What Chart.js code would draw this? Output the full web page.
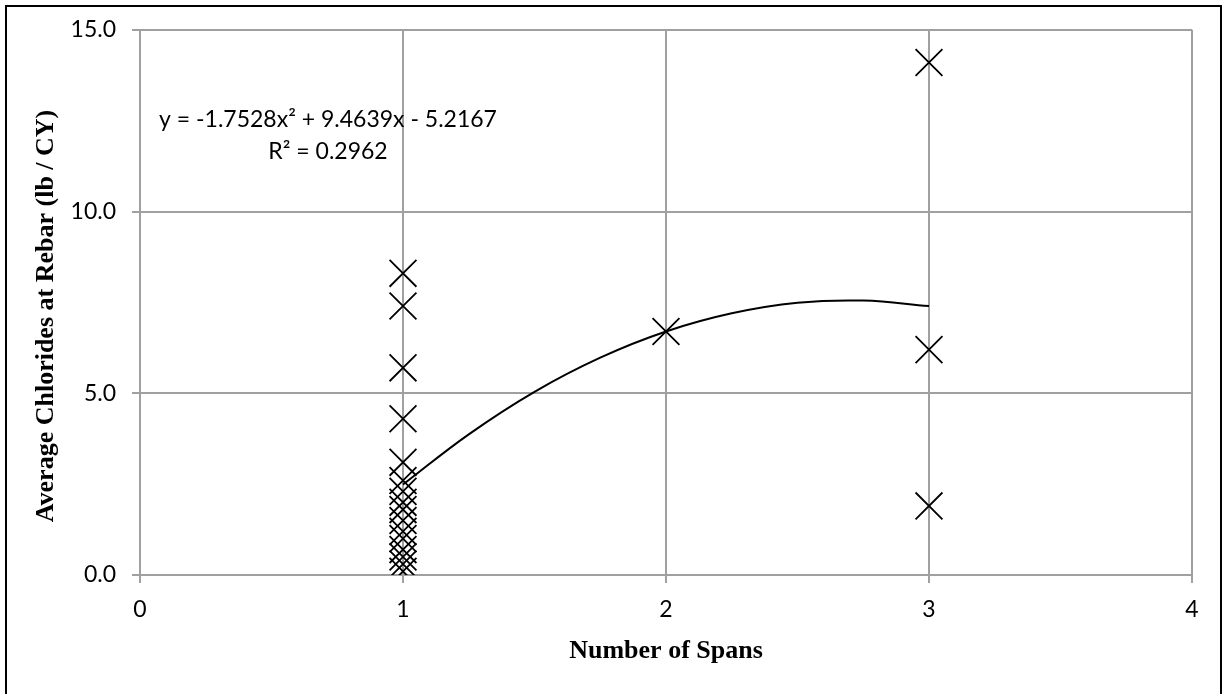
<!DOCTYPE html>
<html>
<head>
<meta charset="utf-8">
<script src="https://cdn.jsdelivr.net/npm/chart.js@4.4.1/dist/chart.umd.min.js"></script>
<style>
  html, body { margin: 0; padding: 0; background: #fff; }
  #wrap { position: relative; width: 1225px; height: 694px; }
</style>
</head>
<body>
<div id="wrap"><canvas id="chart" width="1225" height="694"></canvas></div>
<script>
// data
const spansX = [1, 1, 1, 1, 1, 1, 1, 1, 1, 1, 1, 1, 1, 1, 1, 1, 2, 3, 3, 3];
const chloridesY = [8.3, 7.4, 5.7, 4.3, 3.1, 2.6, 2.3, 2.0, 1.8, 1.5, 1.2, 1.0, 0.7, 0.5, 0.3, 0.1, 6.7, 14.1, 6.2, 1.9];

// trend curve, sampled off the plotted line
const trendX = [1, 1.25, 1.5, 1.75, 2, 2.25, 2.5, 2.75, 3];
const trendY = [2.49, 3.87, 5.04, 5.98, 6.70, 7.20, 7.49, 7.55, 7.40];

const equationText = "y = -1.7528x² + 9.4639x - 5.2167";
const r2Text = "R² = 0.2962";

const xTitle = "Number of Spans";
const yTitle = "Average Chlorides at Rebar (lb / CY)";

const tickFont = { family: "Lato", size: 23 };
const titleFont = { family: "'Liberation Serif'", size: 26, weight: "bold" };
const gridColor = "#a0a0a0";

const points = spansX.map((x, i) => ({ x, y: chloridesY[i] }));
const trend = trendX.map((x, i) => ({ x, y: trendY[i] }));

// outer frame, y title and trendline label
const extras = {
    id: "extras",
    afterDraw(chart) {
        const ctx = chart.ctx;
        ctx.save();
        ctx.strokeStyle = "#000";
        ctx.lineWidth = 2;
        ctx.strokeRect(6, 6, 1215, 700);

        ctx.fillStyle = "#000";
        ctx.textAlign = "center";
        ctx.textBaseline = "middle";

        ctx.save();
        ctx.translate(46, 316);
        ctx.rotate(-Math.PI / 2);
        ctx.font = "bold 26px 'Liberation Serif'";
        ctx.fillText(yTitle, 0, 0);
        ctx.restore();

        ctx.font = "23px Lato";
        ctx.fillText(equationText, 328, 120);
        ctx.fillText(r2Text, 328, 152);
        ctx.restore();
    }
};

new Chart(document.getElementById("chart"), {
    type: "scatter",
    data: {
        datasets: [
            {
                label: "data",
                data: points,
                pointStyle: "crossRot",
                pointRadius: 19,
                pointHoverRadius: 19,
                borderColor: "#000",
                backgroundColor: "#000",
                borderWidth: 1.8,
                order: 1
            },
            {
                label: "trend",
                type: "line",
                data: trend,
                borderColor: "#000",
                borderWidth: 2,
                pointRadius: 0,
                tension: 0.4,
                fill: false,
                order: 2
            }
        ]
    },
    options: {
        responsive: false,
        animation: false,
        events: [],
        layout: { padding: { left: 0, right: 33, top: 27, bottom: 0 } },
        plugins: {
            legend: { display: false },
            tooltip: { enabled: false }
        },
        scales: {
            x: {
                type: "linear",
                min: 0,
                max: 4,
                afterFit: s => { s.height = 119; },
                ticks: { stepSize: 1, color: "#000", font: tickFont, padding: 13, maxRotation: 0 },
                grid: { color: gridColor, lineWidth: 2, tickLength: 8, tickColor: gridColor },
                border: { color: gridColor, width: 2 },
                title: { display: true, text: xTitle, color: "#000", font: titleFont, padding: { top: 0, bottom: 27 } }
            },
            y: {
                type: "linear",
                min: 0,
                max: 15,
                afterFit: s => { s.width = 140; },
                ticks: { stepSize: 5, color: "#000", font: tickFont, padding: 16, callback: v => v.toFixed(1) },
                grid: { color: gridColor, lineWidth: 2, tickLength: 8, tickColor: gridColor },
                border: { color: gridColor, width: 2 },
                title: { display: false }
            }
        }
    },
    plugins: [extras]
});
</script>
</body>
</html>
